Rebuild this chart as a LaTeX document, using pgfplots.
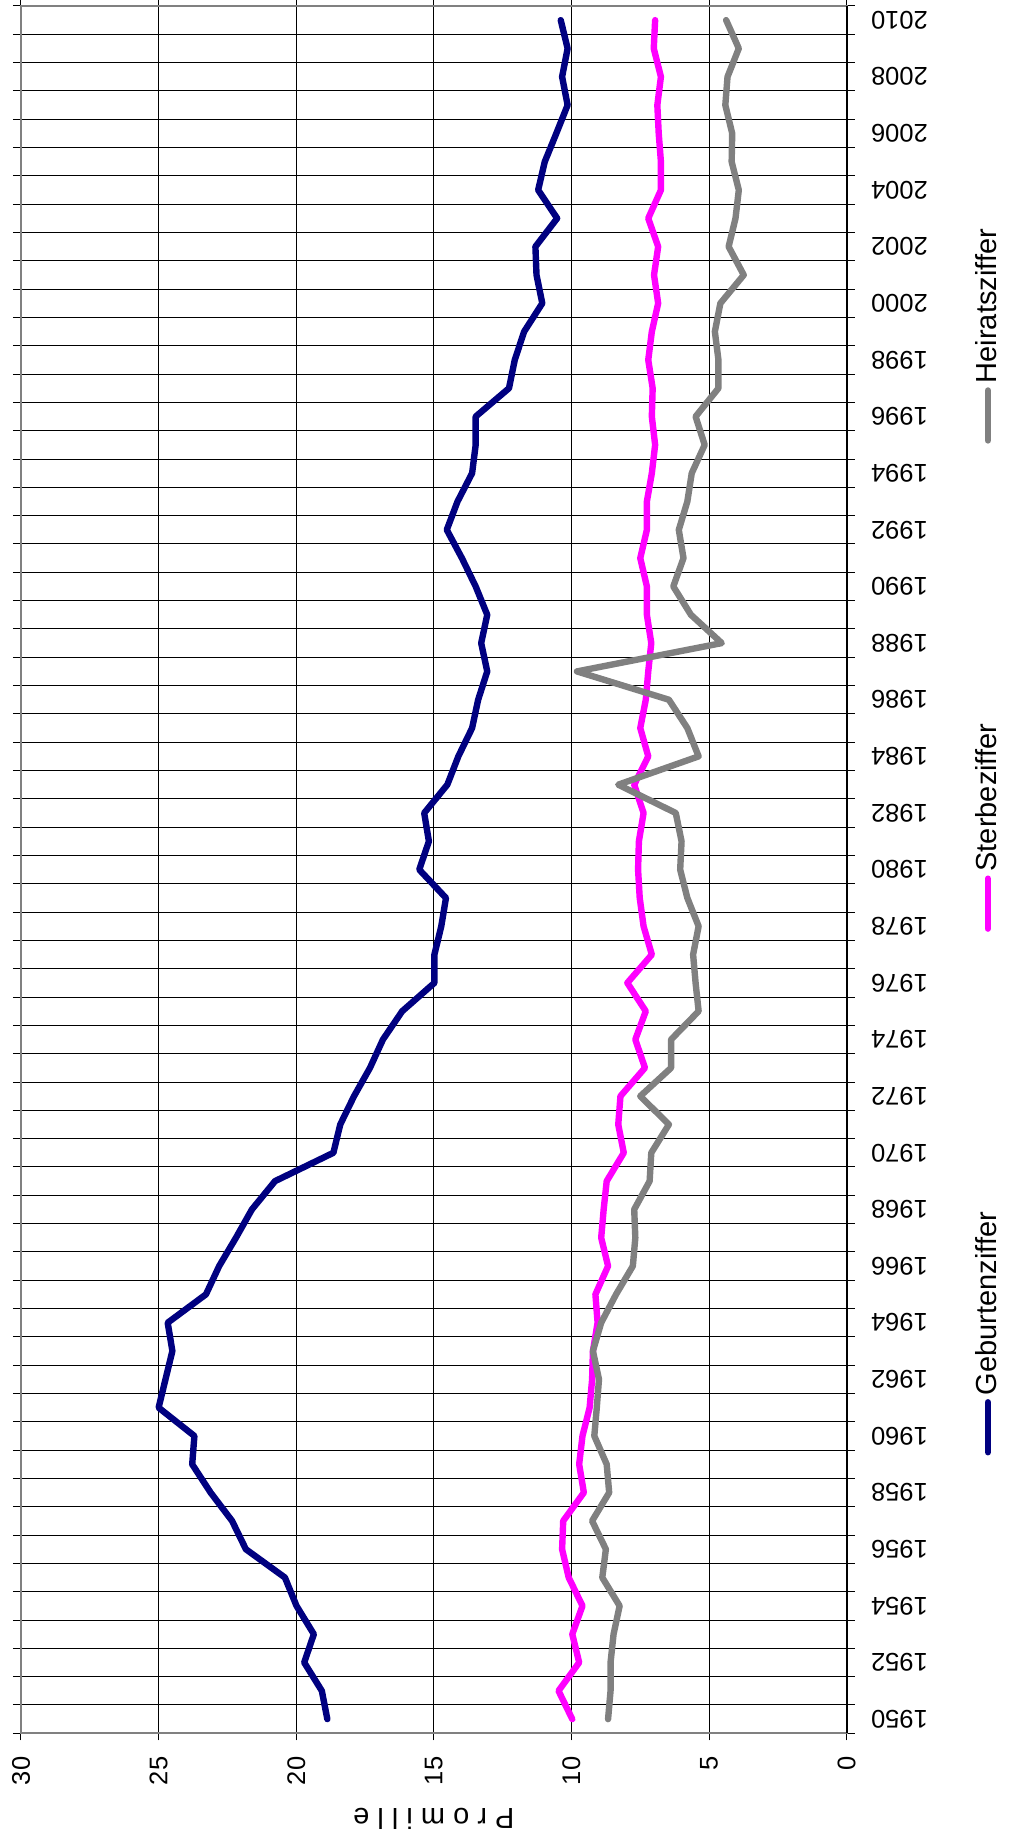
\documentclass[border=0pt]{standalone}
\usepackage{fontspec}
\setmainfont{Liberation Sans}
\usepackage{pgfplots}
\usepackage{pgfplotstable}
\pgfplotsset{compat=1.18}
\definecolor{geb}{HTML}{000080}
\definecolor{ster}{HTML}{FF00FF}
\definecolor{heir}{HTML}{808080}
\pgfplotstableread{
year geb ster heir
1950 18.87 9.97 8.67
1951 19.07 10.47 8.58
1952 19.71 9.72 8.58
1953 19.36 9.97 8.47
1954 19.99 9.60 8.25
1955 20.41 10.10 8.88
1956 21.83 10.34 8.75
1957 22.33 10.30 9.25
1958 23.11 9.55 8.63
1959 23.78 9.72 8.72
1960 23.70 9.60 9.17
1961 25.00 9.34 9.08
1962 24.75 9.25 9.00
1963 24.50 9.22 9.22
1964 24.67 9.05 8.92
1965 23.28 9.13 8.38
1966 22.80 8.67 7.77
1967 22.19 8.92 7.68
1968 21.61 8.83 7.72
1969 20.77 8.72 7.16
1970 18.65 8.10 7.10
1971 18.40 8.30 6.46
1972 17.90 8.22 7.50
1973 17.32 7.33 6.38
1974 16.85 7.68 6.38
1975 16.15 7.30 5.38
1976 14.98 7.97 5.49
1977 14.98 7.08 5.58
1978 14.73 7.38 5.38
1979 14.56 7.52 5.79
1980 15.53 7.58 6.05
1981 15.18 7.55 6.00
1982 15.35 7.38 6.21
1983 14.51 7.72 8.30
1984 14.11 7.21 5.38
1985 13.61 7.50 5.79
1986 13.39 7.30 6.46
1987 13.06 7.21 9.80
1988 13.28 7.10 4.54
1989 13.06 7.26 5.66
1990 13.48 7.26 6.30
1991 13.98 7.50 5.93
1992 14.53 7.26 6.10
1993 14.14 7.26 5.79
1994 13.61 7.08 5.63
1995 13.48 6.96 5.16
1996 13.48 7.08 5.49
1997 12.27 7.05 4.66
1998 12.06 7.21 4.66
1999 11.72 7.08 4.79
2000 11.06 6.85 4.59
2001 11.27 7.00 3.74
2002 11.31 6.85 4.29
2003 10.52 7.21 4.04
2004 11.21 6.75 3.92
2005 10.97 6.75 4.18
2006 10.55 6.83 4.16
2007 10.14 6.88 4.41
2008 10.34 6.75 4.33
2009 10.14 7.01 3.92
2010 10.39 6.96 4.38
}\datatable
\begin{document}
\rotatebox{90}{%
\begin{tikzpicture}
\useasboundingbox (0,0) rectangle (919.5pt,504pt);
\begin{axis}[
  at={(52.85pt,80.65pt)}, anchor=south west,
  width=863.65pt, height=412.85pt, scale only axis,
  xmin=1949.5, xmax=2010.5, ymin=0, ymax=30,
  xtick={1950,1952,...,2010},
  minor xtick={1949.5,1950.5,...,2010.5},
  ytick={0,5,...,30},
  xminorgrids=true, ymajorgrids=true,
  grid style={black, line width=0.5pt},
  minor grid style={black, line width=0.5pt},
  tick align=outside,
  major x tick style={draw=none},
  minor x tick style={black, line width=0.5pt},
  y tick style={black, line width=0.5pt},
  minor tick length=4pt, major tick length=3.5pt,
  axis line style={draw=heir, line width=1pt},
  /pgf/number format/assume math mode=true,
  /pgf/number format/1000 sep={},
  x tick label style={rotate=90, anchor=east, inner sep=0pt, font=\fontsize{12.75}{14}\selectfont, xshift=-8.5pt},
  y tick label style={anchor=east, inner sep=0pt, font=\fontsize{12.75}{14}\selectfont, xshift=-8pt},
  ylabel={P r o m i l l e},
  ylabel style={at={(axis description cs:-0.0496,0.5)}, anchor=center, font=\fontsize{14.5}{16}\selectfont},
  legend columns=3,
  legend style={at={(axis description cs:0.517,-0.171)}, anchor=center, draw=none, fill=none,
    font=\fontsize{14.5}{16}\selectfont, nodes={inner sep=2pt},
    /tikz/every even column/.append style={column sep=138pt}},
  legend image code/.code={\draw[#1, line cap=round] (0pt,0pt) -- (25pt,0pt);},
  every axis plot/.append style={line width=3.2pt, line join=round, line cap=round, mark=none},
  clip=false,
]
\addplot[geb] table[x=year, y=geb] {\datatable};
\addlegendentry{Geburtenziffer}
\addplot[ster] table[x=year, y=ster] {\datatable};
\addlegendentry{Sterbeziffer}
\addplot[heir] table[x=year, y=heir] {\datatable};
\addlegendentry{Heiratsziffer}
\draw[black, line width=1pt] (rel axis cs:0,0) -- (rel axis cs:1,0);
\end{axis}
\end{tikzpicture}}
\end{document}
